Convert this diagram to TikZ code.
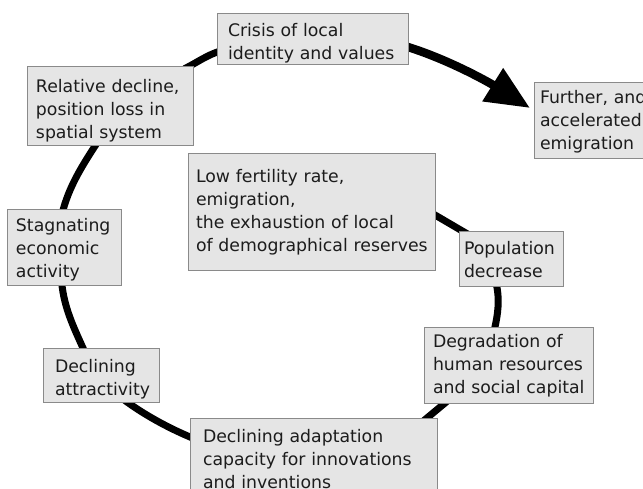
\documentclass[tikz,border=0pt]{standalone}
\usepackage{fontspec}
\setmainfont{DejaVu Sans}
\usetikzlibrary{arrows.meta}
\definecolor{panelfill}{RGB}{229,229,229}
\definecolor{panelrule}{RGB}{138,138,138}
\definecolor{ink}{RGB}{28,28,28}
\pgfdeclarelayer{lines}
\pgfsetlayers{lines,main}
\newcommand\panelfont{\fontsize{17.3pt}{23pt}\selectfont}
\begin{document}
\begin{tikzpicture}[x=1pt,y=-1pt,
  panel/.style={draw=panelrule, fill=panelfill, line width=1pt, anchor=north west,
    inner sep=0pt, outer sep=0pt, align=left, text=ink, font=\panelfont},
  loopline/.style={draw=black, line width=7pt, shorten <=-4pt, shorten >=-4pt},
  exitline/.style={draw=black, line width=8.5pt, shorten <=-4pt,
    -{Triangle[length=44pt,width=37pt]}}
]
\path[use as bounding box] (0,0) rectangle (643,489);
\clip (0,0) rectangle (643,489);

% boxes of the vicious circle
\node[panel, text width=191pt, text height=23pt, text depth=28pt] (crisis) at (217,14)
  {\leftskip=11pt Crisis of local\\identity and values\par};
\node[panel, text width=121pt, text height=21pt, text depth=55pt] (further) at (534,83)
  {\leftskip=6pt Further, and\\accelerated\\emigration\par};
\node[panel, text width=166pt, text height=26pt, text depth=53pt] (relative) at (27,67)
  {\leftskip=9pt Relative decline,\\position loss in\\spatial system\par};
\node[panel, text width=114pt, text height=22pt, text depth=54pt] (stagnating) at (7,210)
  {\leftskip=9pt Stagnating\\economic\\activity\par};
\node[panel, text width=116pt, text height=24pt, text depth=30pt] (attract) at (43,348)
  {\leftskip=12pt Declining\\attractivity\par};
\node[panel, text width=247pt, text height=29pt, text depth=88pt] (lowfert) at (188,154)
  {\leftskip=8pt Low fertility rate,\\emigration,\\the exhaustion of local\\of demographical reserves\par};
\node[panel, text width=104pt, text height=23pt, text depth=32pt] (pop) at (459,232)
  {\leftskip=5pt Population\\decrease\par};
\node[panel, text width=169pt, text height=21pt, text depth=55pt] (degr) at (424,327)
  {\leftskip=9pt Degradation of\\human resources\\and social capital\par};
\node[panel, text width=247pt, text height=24pt, text depth=66pt] (adapt) at (190,418)
  {\leftskip=13pt Declining adaptation\\capacity for innovations\\and inventions\par};

% the loop runs underneath the boxes
\begin{pgfonlayer}{lines}
\fill[white] (0,0) rectangle (643,489);
\draw[loopline] ([yshift=-2.5pt]lowfert.east) -- (pop);
\draw[loopline] ([xshift=-14pt]pop.south) .. controls +(3,13) and +(3,-13) .. ([xshift=-13.5pt]degr.north);
\draw[loopline] ([xshift=-63.5pt]degr.south) .. controls +(-6,5) and +(6,-5) .. ([xshift=113.5pt]adapt.north);
\draw[loopline] ([yshift=-19pt]adapt.north west) .. controls +(-22,-9) and +(16,12) .. ([xshift=26pt]attract.south);
\draw[loopline] ([xshift=-18pt]attract.north) .. controls +(-9,-20) and +(2,22) .. ([xshift=-2pt]stagnating.south);
\draw[loopline] ([xshift=-1pt]stagnating.north) .. controls +(5.6,-23) and +(-13,20) .. ([xshift=-15pt]relative.south);
\draw[loopline] ([xshift=78pt]relative.north) .. controls +(10,-5) and +(-10,3) .. ([yshift=-12.5pt]crisis.west);
\draw[exitline] ([yshift=-7.5pt]crisis.east) .. controls +(40,12) and +(-40,-25) .. ([xshift=-4pt,yshift=13pt]further.west);
\end{pgfonlayer}
\end{tikzpicture}
\end{document}
